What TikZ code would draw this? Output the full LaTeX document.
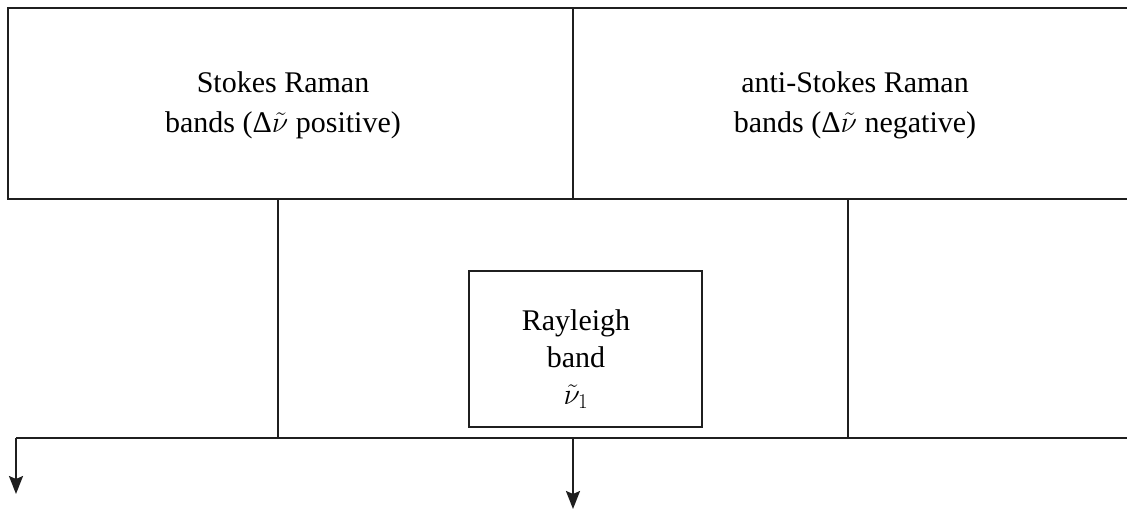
\documentclass[tikz,border=0pt]{standalone}
\usepackage{fix-cm}
\usepackage{fontspec}
\setmainfont{Liberation Serif}
\usetikzlibrary{arrows.meta}
\newcommand{\nut}{$\tilde{\nu}$}
\begin{document}
\begin{tikzpicture}[x=1pt,y=-1pt,
  ln/.style={line width=2pt,draw=black!88},
  box/.style={ln,draw,rectangle,outer sep=0pt,inner sep=0pt,anchor=north west},
  lbl/.style={align=center,font=\fontsize{30}{40}\selectfont,inner sep=0pt},
  arr/.style={ln,-{Stealth[length=18pt,width=14pt,inset=3pt]}}]
\useasboundingbox (0,0) rectangle (1127,512);
% top left box
\node[box,minimum width=565pt,minimum height=191pt] (stokes) at (8,8) {};
\node[lbl] (stokestext) at (283,105) {Stokes Raman\\bands (Δ\nut\ positive)};
% top right box (open on the right side, cut by the picture edge)
\coordinate (trtl) at (1130,8);
\coordinate (trbl) at (1130,199);
\draw[ln] (stokes.north east) -- (trtl);
\draw[ln] (stokes.south east) -- (trbl);
\node[lbl] (anti) at (855,105) {anti-Stokes Raman\\bands (Δ\nut\ negative)};
% rayleigh box
\node[box,minimum width=233pt,minimum height=156pt] (ray) at (469,271) {};
\node[lbl,font=\fontsize{30}{37}\selectfont] (raytext) at (576,359) {Rayleigh\\band\\$\tilde{\nu}_1$};
% baseline and verticals
\coordinate (bl) at (16,438);
\coordinate (br) at (1130,438);
\coordinate (v1t) at (278,199);
\coordinate (v1b) at (278,438);
\coordinate (v2t) at (848,199);
\coordinate (v2b) at (848,438);
\draw[ln] (v1t) -- (v1b);
\draw[ln] (v2t) -- (v2b);
\draw[ln] (br) -- (bl);
\coordinate (a1e) at (16,494);
\coordinate (a2s) at (573,438);
\coordinate (a2e) at (573,509);
\draw[arr] (bl) -- (a1e);
\draw[arr] (a2s) -- (a2e);
\end{tikzpicture}
\end{document}
